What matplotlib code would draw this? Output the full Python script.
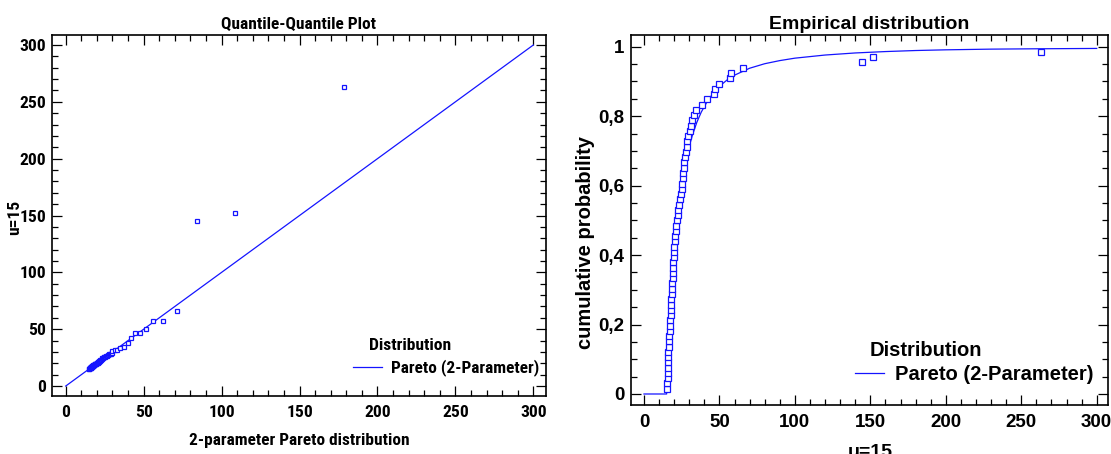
import matplotlib
matplotlib.use('Agg')
import numpy as np
import matplotlib.pyplot as plt
from matplotlib.ticker import MultipleLocator, FuncFormatter
from matplotlib.lines import Line2D

# sorted exceedances over u=15
data = [15.2, 15.4, 15.6, 15.7, 15.8, 16.0, 16.1, 16.2, 16.4, 16.6,
        16.8, 17.0, 17.2, 17.4, 17.6, 17.8, 18.0, 18.2, 18.4, 18.6,
        18.8, 19.0, 19.1, 19.3, 19.4, 19.6, 19.9, 20.2, 20.5, 20.8,
        21.1, 21.4, 21.8, 22.3, 22.8, 23.3, 24.2, 24.6, 24.9, 25.2,
        25.6, 25.9, 26.3, 26.7, 27.1, 27.8, 28.2, 28.6, 29.0, 30.4,
        31.3, 31.8, 33.2, 34.2, 38.2, 42.0, 46.5, 46.9, 49.8, 56.8,
        57.6, 65.8, 144.8, 152.0, 262.8]

# fitted 2-parameter Pareto quantiles (x axis of the Q-Q plot)
theo = [15.1, 15.2, 15.4, 15.5, 15.6, 15.8, 15.9, 16.1, 16.2, 16.4,
        16.5, 16.7, 16.9, 17.1, 17.2, 17.4, 17.6, 17.8, 18.0, 18.2,
        18.4, 18.6, 18.9, 19.1, 19.3, 19.6, 19.8, 20.1, 20.4, 20.7,
        21.0, 21.3, 21.6, 22.0, 22.3, 22.7, 23.1, 23.5, 23.9, 24.3,
        24.8, 25.3, 25.8, 26.3, 26.9, 27.5, 28.1, 28.8, 29.4, 30.0,
        31.5, 33.2, 34.9, 37.4, 39.8, 41.9, 44.5, 47.5, 51.3, 55.8,
        62.2, 71.2, 84.4, 108.6, 178.4]

ref_line = [0, 300]

# fitted Pareto CDF
cdf_x = [0, 15, 15.5, 16, 17, 18, 19, 20, 21, 22, 23, 24, 25, 26, 28, 30, 32,
         35, 38, 42, 46, 50, 55, 60, 70, 80, 90, 100, 120, 140, 160, 180,
         200, 230, 260, 300]
cdf_p = [0, 0, 0.057, 0.110, 0.202, 0.280, 0.347, 0.404, 0.454, 0.498, 0.537,
         0.571, 0.601, 0.628, 0.675, 0.713, 0.744, 0.782, 0.812, 0.843, 0.867,
         0.886, 0.904, 0.918, 0.938, 0.951, 0.960, 0.967, 0.976, 0.982, 0.986,
         0.989, 0.991, 0.993, 0.994, 0.995]

n = len(data)
ecdf_p = np.arange(1, n + 1) / (n + 1)

blue = '#1414ff'
narrow = ['Roboto Condensed', 'DejaVu Sans']
wide = ['Liberation Sans', 'DejaVu Sans']

W, H = 1111, 454
fig = plt.figure(figsize=(W / 100, H / 100), dpi=100)


def fx(px):
    return px / W


def fy(py):
    return 1 - py / H


def style_axes(ax, fam, size, xpad, ypad):
    for s in ax.spines.values():
        s.set_linewidth(1.2)
    ax.tick_params(which='both', direction='in', top=True, right=True, width=0.9)
    ax.tick_params(which='major', length=7)
    ax.tick_params(which='minor', length=4)
    ax.tick_params(axis='x', pad=xpad)
    ax.tick_params(axis='y', pad=ypad)
    for lab in ax.get_xticklabels() + ax.get_yticklabels():
        lab.set_family(fam)
        lab.set_fontweight('bold')
        lab.set_fontsize(size)


# ---- left: Q-Q plot
ax1 = fig.add_axes([fx(51.7), fy(395.7), fx(546.1 - 51.7), (395.7 - 35) / H])
ax1.plot(ref_line, ref_line, color=blue, lw=0.9)
ax1.plot(theo, data, ls='none', marker='s', ms=3.4, mfc='white', mec=blue, mew=0.9)
ax1.set_xlim(-9.0, 308.2)
ax1.set_ylim(-8.5, 308.8)
ax1.xaxis.set_major_locator(MultipleLocator(50))
ax1.xaxis.set_minor_locator(MultipleLocator(10))
ax1.yaxis.set_major_locator(MultipleLocator(50))
ax1.yaxis.set_minor_locator(MultipleLocator(10))
style_axes(ax1, narrow, 12.6, 7, 4)

fig.text(fx(298.6), fy(29), 'Quantile-Quantile Plot', ha='center', va='baseline',
         family=narrow, fontweight='bold', fontsize=12.5)
fig.text(fx(299.7), fy(444.5), '2-parameter Pareto distribution', ha='center',
         va='baseline', family=narrow, fontweight='bold', fontsize=12.4)
fig.text(fx(14.5), fy(217.5), 'u=15', ha='center', va='center', rotation=90,
         family=narrow, fontweight='bold', fontsize=12.6)
ax1.text((368.6 - 51.7) / 494.4, (395.7 - 345) / 360.7, 'Distribution',
         transform=ax1.transAxes, ha='left', va='center',
         family=narrow, fontweight='bold', fontsize=12.6)
h1 = Line2D([], [], color=blue, lw=0.9)
ax1.legend([h1], ['Pareto (2-Parameter)'], loc='center left',
           bbox_to_anchor=((353.3 - 51.7) / 494.4, (395.7 - 368) / 360.7),
           frameon=False, borderpad=0, borderaxespad=0, handlelength=1.65,
           handletextpad=0.52, prop={'family': narrow, 'weight': 'bold', 'size': 12.4})

# ---- right: empirical distribution
ax2 = fig.add_axes([fx(630.7), fy(405), fx(1108.3 - 630.7), (405 - 35) / H])
ax2.plot(cdf_x, cdf_p, color=blue, lw=0.9)
ax2.plot(data, ecdf_p, ls='none', marker='s', ms=3.8, mfc='white', mec=blue, mew=0.9)
ax2.set_xlim(-8.8, 307.7)
ax2.set_ylim(-0.0317, 1.0337)
ax2.xaxis.set_major_locator(MultipleLocator(50))
ax2.xaxis.set_minor_locator(MultipleLocator(10))
ax2.yaxis.set_major_locator(MultipleLocator(0.2))
ax2.yaxis.set_minor_locator(MultipleLocator(0.05))
ax2.yaxis.set_major_formatter(FuncFormatter(lambda v, p: f'{round(v, 2):g}'.replace('.', ',')))
style_axes(ax2, wide, 13.5, 6.5, 4.4)

fig.text(fx(869), fy(29.3), 'Empirical distribution', ha='center', va='baseline',
         family=wide, fontweight='bold', fontsize=14)
fig.text(fx(870), fy(457), 'u=15', ha='center', va='baseline',
         family=wide, fontweight='bold', fontsize=14)
fig.text(fx(585.9), fy(242.5), 'cumulative probability', ha='center', va='center',
         rotation=90, family=wide, fontweight='bold', fontsize=14.5)
ax2.text((869.5 - 630.7) / 477.6, (405 - 350.7) / 370, 'Distribution',
         transform=ax2.transAxes, ha='left', va='center',
         family=wide, fontweight='bold', fontsize=14.5)
h2 = Line2D([], [], color=blue, lw=0.9)
ax2.legend([h2], ['Pareto (2-Parameter)'], loc='center left',
           bbox_to_anchor=((855.4 - 630.7) / 477.6, (405 - 375) / 370),
           frameon=False, borderpad=0, borderaxespad=0, handlelength=1.42,
           handletextpad=0.54, prop={'family': wide, 'weight': 'bold', 'size': 14.5})

fig.savefig('out.png', dpi=100)
